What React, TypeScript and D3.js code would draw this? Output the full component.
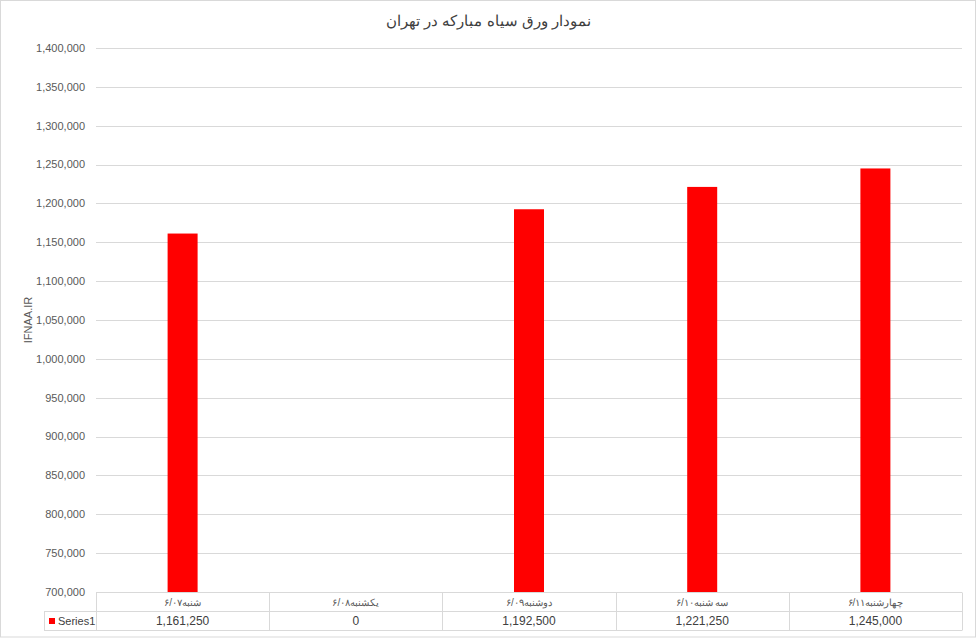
import * as d3 from 'd3';
import * as React from 'react';

const { useRef, useEffect } = React;

const width = 977;
const height = 638;
const margin = { top: 48, right: 15, bottom: 46, left: 96 };

const title = 'نمودار ورق سیاه مبارکه در تهران';
const axisTitle = 'IFNAA.IR';
const seriesName = 'Series1';

const categories = [
  'شنبه۶/۰۷',
  'یکشنبه۶/۰۸',
  'دوشنبه۶/۰۹',
  'سه شنبه۶/۱۰',
  'چهارشنبه۶/۱۱',
];
const values = [1161250, 0, 1192500, 1221250, 1245000];
const yDomain = [700000, 1400000];
const yTickStep = 50000;

const font = '"Liberation Sans", Arial, sans-serif';
const textColor = '#595959';
const gridColor = '#d9d9d9';
const barColor = '#ff0000';

export default () => {
  const rootRef = useRef<HTMLDivElement>(null);

  useEffect(() => {
    const rootEl = rootRef.current;
    if (!rootEl) {
      return;
    }
    d3.select(rootEl).selectAll('*').remove();

    const plotBottom = height - margin.bottom; // axis line / top of the table
    const x = d3
      .scaleBand()
      .domain(categories)
      .range([margin.left, width - margin.right])
      .paddingInner(0)
      .paddingOuter(0);

    const y = d3
      .scaleLinear()
      .domain(yDomain)
      .range([plotBottom, margin.top]);

    const fmt = d3.format(',');
    const ticks = d3.range(yDomain[0], yDomain[1] + 1, yTickStep);

    const svg = d3
      .select(rootEl)
      .append('svg')
      .attr('width', width)
      .attr('height', height)
      .style('position', 'absolute')
      .style('left', '0px')
      .style('top', '0px')
      .style('font-family', font);

    svg
      .append('rect')
      .attr('x', 0.5)
      .attr('y', 0.5)
      .attr('width', width - 2)
      .attr('height', height - 1.5)
      .attr('fill', '#fff')
      .attr('stroke', gridColor);

    // title
    svg
      .append('text')
      .attr('x', width / 2)
      .attr('y', 26)
      .attr('text-anchor', 'middle')
      .attr('direction', 'rtl')
      .attr('font-size', 15)
      .attr('fill', '#404040')
      .text(title);

    // grid + y labels
    const yAxis = svg.append('g');
    yAxis
      .selectAll('line')
      .data(ticks.filter(t => t > yDomain[0]))
      .join('line')
      .attr('x1', margin.left)
      .attr('x2', width - margin.right)
      .attr('y1', d => Math.round(y(d)) + 0.5)
      .attr('y2', d => Math.round(y(d)) + 0.5)
      .attr('stroke', gridColor);

    yAxis
      .selectAll('text')
      .data(ticks)
      .join('text')
      .attr('x', 85)
      .attr('y', d => y(d))
      .attr('dy', '0.35em')
      .attr('text-anchor', 'end')
      .attr('font-size', 11)
      .attr('fill', textColor)
      .text(d => fmt(d));

    svg
      .append('text')
      .attr('transform', `translate(32,${(margin.top + plotBottom) / 2}) rotate(-90)`)
      .attr('text-anchor', 'middle')
      .attr('font-size', 11)
      .attr('fill', textColor)
      .text(axisTitle);

    // bars
    const barWidth = 30;
    svg
      .append('g')
      .selectAll('rect')
      .data(values.map((v, i) => ({ v, c: categories[i] })))
      .join('rect')
      .attr('x', d => (x(d.c) as number) + x.bandwidth() / 2 - barWidth / 2)
      .attr('y', d => y(Math.max(d.v, yDomain[0])))
      .attr('width', barWidth)
      .attr('height', d => plotBottom - y(Math.max(d.v, yDomain[0])))
      .attr('fill', barColor);

    // data table
    const rowH = 19;
    const tableLeft = 44;
    const table = svg.append('g').attr('stroke', gridColor).attr('fill', 'none');
    const r0 = Math.round(plotBottom) + 0.5;
    const r1 = r0 + rowH;
    const r2 = r1 + rowH;
    const xr = width - margin.right;
    table.append('line').attr('x1', margin.left).attr('x2', xr).attr('y1', r0).attr('y2', r0);
    table.append('line').attr('x1', tableLeft).attr('x2', xr).attr('y1', r1).attr('y2', r1);
    table.append('line').attr('x1', tableLeft).attr('x2', xr).attr('y1', r2).attr('y2', r2);
    table.append('line').attr('x1', tableLeft + 0.5).attr('x2', tableLeft + 0.5).attr('y1', r1).attr('y2', r2);
    table
      .selectAll('line.col')
      .data([...categories.map(c => x(c) as number), xr])
      .join('line')
      .attr('class', 'col')
      .attr('x1', d => Math.round(d) + 0.5)
      .attr('x2', d => Math.round(d) + 0.5)
      .attr('y1', r0)
      .attr('y2', r2);

    svg
      .append('g')
      .selectAll('text')
      .data(categories)
      .join('text')
      .attr('x', d => (x(d) as number) + x.bandwidth() / 2)
      .attr('y', r0 + rowH / 2)
      .attr('dy', '0.35em')
      .attr('text-anchor', 'middle')
      .attr('direction', 'rtl')
      .attr('font-size', 10)
      .attr('fill', textColor)
      .text(d => d);

    svg
      .append('g')
      .selectAll('text')
      .data(values.map((v, i) => ({ v, c: categories[i] })))
      .join('text')
      .attr('x', d => (x(d.c) as number) + x.bandwidth() / 2)
      .attr('y', r1 + rowH / 2)
      .attr('dy', '0.35em')
      .attr('text-anchor', 'middle')
      .attr('font-size', 12)
      .attr('fill', '#404040')
      .text(d => fmt(d.v));

    // legend key in the table
    svg
      .append('rect')
      .attr('x', 49)
      .attr('y', r1 + rowH / 2 - 3)
      .attr('width', 6)
      .attr('height', 6)
      .attr('fill', barColor);
    svg
      .append('text')
      .attr('x', 58)
      .attr('y', r1 + rowH / 2)
      .attr('dy', '0.35em')
      .attr('font-size', 11)
      .attr('fill', '#404040')
      .text(seriesName);
  }, []);

  return <div ref={rootRef} />;
};
